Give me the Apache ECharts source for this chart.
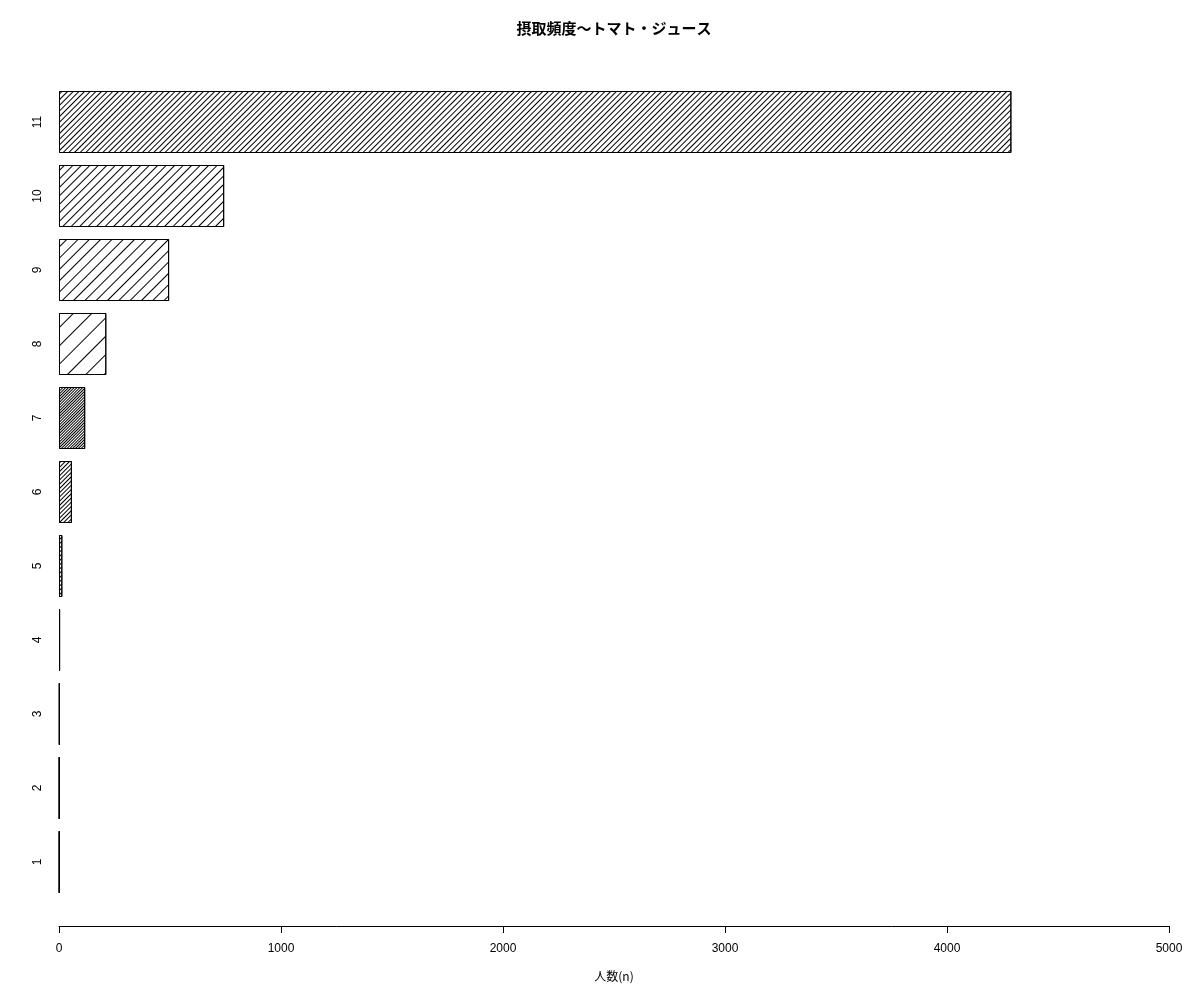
<!DOCTYPE html>
<html>
<head>
<meta charset="utf-8">
<script src="https://cdn.jsdelivr.net/npm/echarts@6/dist/echarts.min.js"></script>
<style>html,body{margin:0;padding:0;background:#fff;}#chart{width:1200px;height:1000px;}</style>
</head>
<body>
<div id="chart"></div>
<script>
const categories = ['1','2','3','4','5','6','7','8','9','10','11'];
const counts = [2, 2, 3, 5, 15, 58, 118, 213, 496, 744, 4290];
const xTicks = [0, 1000, 2000, 3000, 4000, 5000];
// hatch line spacing (px, perpendicular) per bar
const hatchSpacing = [2.5, 2.5, 2.5, 2.5, 2.5, 2.5, 2, 13, 7.5, 5.7, 3.5];

const chart = echarts.init(document.getElementById('chart'));
const fontFam = '"Liberation Sans", Arial, "Noto Sans CJK JP", sans-serif';
chart.setOption({
  backgroundColor: '#ffffff',
  animation: false,
  title: {
    text: '摂取頻度〜トマト・ジュース',
    left: 609, top: 16, textAlign: 'center',
    textStyle: { fontFamily: '"Noto Sans CJK JP", sans-serif', fontWeight: 'bold', fontSize: 15, color: '#000' }
  },
  grid: { left: 59, right: 31, top: 85, height: 814, containLabel: false },
  xAxis: {
    type: 'value', min: xTicks[0], max: xTicks[xTicks.length - 1], interval: 1000,
    offset: 27,
    name: '人数(n)', nameLocation: 'middle', nameGap: 44,
    nameTextStyle: { fontFamily: '"Noto Sans CJK JP", sans-serif', fontSize: 12, color: '#000' },
    axisLine: { show: true, lineStyle: { color: '#000', width: 1 } },
    axisTick: { show: true, length: 7, lineStyle: { color: '#000' } },
    axisLabel: { margin: 17, fontSize: 12, color: '#000', fontFamily: fontFam, formatter: v => String(v) },
    splitLine: { show: false }
  },
  yAxis: {
    type: 'category', data: categories,
    axisLine: { show: false }, axisTick: { show: false },
    axisLabel: { rotate: 90, margin: 15, fontSize: 12, color: '#000', fontFamily: fontFam },
    splitLine: { show: false }
  },
  series: [{
    type: 'bar',
    barWidth: 62,
    data: counts.map((v, i) => ({
      value: v,
      itemStyle: {
        color: '#ffffff', borderColor: '#000', borderWidth: 1,
        decal: {
          symbol: 'rect', symbolSize: 1, color: '#000',
          dashArrayX: [1, 0], dashArrayY: [1, hatchSpacing[i] - 1],
          rotation: -Math.PI / 4
        }
      }
    })),
    emphasis: { disabled: true }
  }]
});
</script>
</body>
</html>
